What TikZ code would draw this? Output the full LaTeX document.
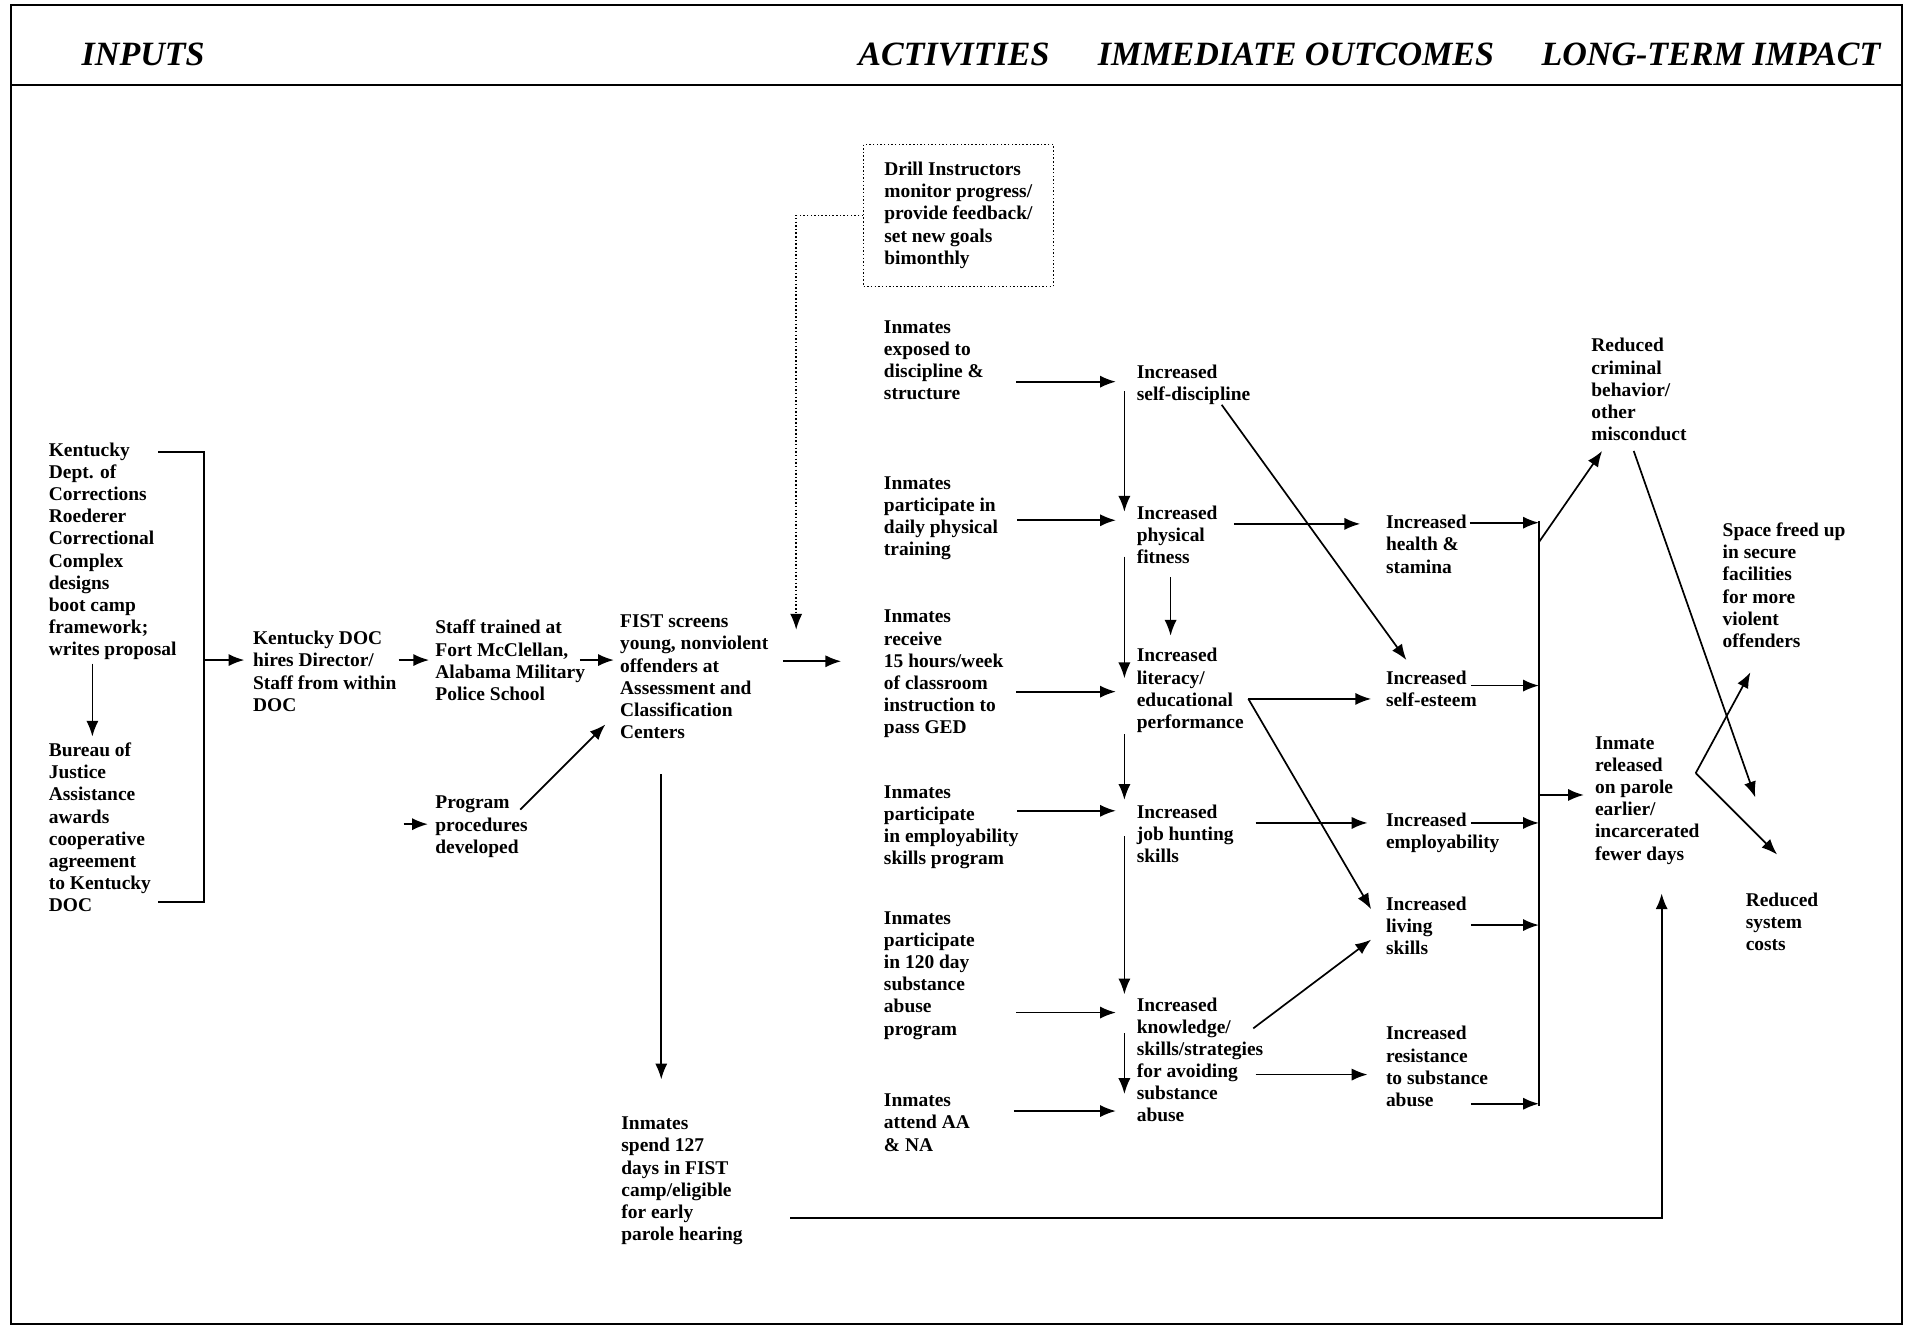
\documentclass[tikz,border=0pt]{standalone}
\usepackage{fontspec}
\setmainfont{Liberation Serif}
\usetikzlibrary{arrows.meta,positioning}
\newcommand{\textlines}[1]{\begin{tabular}[t]{@{}l@{}}#1\end{tabular}}
\tikzset{
    entry/.style={inner sep=0pt, anchor=base west, font=\fontsize{16}{18.2}\selectfont\bfseries},
    head/.style={inner sep=0pt, anchor=base west, font=\fontsize{28}{30}\selectfont\bfseries\itshape},
    drill box/.style={entry, draw, line width=1pt, dash pattern=on 1.2pt off 1.8pt, inner xsep=17pt, inner ysep=13pt}
}
\begin{document}
\begin{tikzpicture}[x=1pt, y=-1pt,
    flow/.style={->, line width=1.4pt},
    dot flow/.style={->, line width=1.2pt, dash pattern=on 1.2pt off 1.8pt},
    >={Latex[length=13pt,width=10pt]}]
    \useasboundingbox (0,0) rectangle (1568,1094);
    % frame and column heads
    \draw[line width=1.6pt] (9,4) rectangle (1565,1089);
    \draw[line width=1.6pt] (9,70) -- (1565,70);
    \node[head] (hin) at (67,54) {INPUTS};
    \node[head] (hact) at (706,54) {ACTIVITIES};
    \node[head] (hout) at (903,54) {IMMEDIATE OUTCOMES};
    \node[head] (himp) at (1268,54) {LONG-TERM IMPACT};
    % inputs
    \node[entry] (kent) at (40,375.5) {\textlines{Kentucky\\Dept. of\\Corrections\\Roederer\\Correctional\\Complex\\designs\\boot camp\\framework;\\writes proposal}};
    \node[entry] (bur) at (40,622.5) {\textlines{Bureau of\\Justice\\Assistance\\awards\\cooperative\\agreement\\to Kentucky\\DOC}};
    \node[entry] (hire) at (208,530.5) {\textlines{Kentucky DOC\\hires Director/\\Staff from within\\DOC}};
    \node[entry] (staff) at (358,521.5) {\textlines{Staff trained at\\Fort McClellan,\\Alabama Military\\Police School}};
    \node[entry] (prog) at (358,665.5) {\textlines{Program\\procedures\\developed}};
    \node[entry] (fist) at (510,516.5) {\textlines{FIST screens\\young, nonviolent\\offenders at\\Assessment and\\Classification\\Centers}};
    \node[entry] (spend) at (511,929.5) {\textlines{Inmates\\spend 127\\days in FIST\\camp/eligible\\for early\\parole hearing}};
    \node[drill box] (drill) at (710,144.5) {\textlines{Drill Instructors\\monitor progress/\\provide feedback/\\set new goals\\bimonthly}};
    % activities
    \node[entry] (a1) at (727,274) {\textlines{Inmates\\exposed to\\discipline \&\\structure}};
    \node[entry] (a2) at (727,402.5) {\textlines{Inmates\\participate in\\daily physical\\training}};
    \node[entry] (a3) at (727,512.5) {\textlines{Inmates\\receive\\15 hours/week\\of classroom\\instruction to\\pass GED}};
    \node[entry] (a4) at (727,656.5) {\textlines{Inmates\\participate\\in employability\\skills program}};
    \node[entry] (a5) at (727,760.5) {\textlines{Inmates\\participate\\in 120 day\\substance\\abuse\\program}};
    \node[entry] (a6) at (727,910.5) {\textlines{Inmates\\attend AA\\\& NA}};
    % immediate outcomes
    \node[entry] (o1) at (935,311) {\textlines{Increased\\self-discipline}};
    \node[entry] (o2) at (935,427.5) {\textlines{Increased\\physical\\fitness}};
    \node[entry] (o3) at (935,544.5) {\textlines{Increased\\literacy/\\educational\\performance}};
    \node[entry] (o4) at (935,673) {\textlines{Increased\\job hunting\\skills}};
    \node[entry] (o5) at (935,832) {\textlines{Increased\\knowledge/\\skills/strategies\\for avoiding\\substance\\abuse}};
    \node[entry] (h) at (1140,435) {\textlines{Increased\\health \&\\stamina}};
    \node[entry] (se) at (1140,563) {\textlines{Increased\\self-esteem}};
    \node[entry] (em) at (1140,680) {\textlines{Increased\\employability}};
    \node[entry] (ls) at (1140,749) {\textlines{Increased\\living\\skills}};
    \node[entry] (rs) at (1140,855.5) {\textlines{Increased\\resistance\\to substance\\abuse}};
    % long-term impact
    \node[entry] (rc) at (1309,289.5) {\textlines{Reduced\\criminal\\behavior/\\other\\misconduct}};
    \node[entry] (sp) at (1417,441.5) {\textlines{Space freed up\\in secure\\facilities\\for more\\violent\\offenders}};
    \node[entry] (ir) at (1312,616.5) {\textlines{Inmate\\released\\on parole\\earlier/\\incarcerated\\fewer days}};
    \node[entry] (rsc) at (1436,745.5) {\textlines{Reduced\\system\\costs}};
    \coordinate (brk) at (168,543);
    \coordinate (progin) at (332,678);
    \coordinate (bustop) at (1266,429);
    \coordinate (busbot) at (1266,910);
    % inputs connectors
    \draw[flow] ([shift={(36,170.5)}]kent.base west) -- ([shift={(36,-16.5)}]bur.base west);
    \draw[line width=1.4pt] ([shift={(90,-3.5)}]kent.base west) -| (brk) |- ([shift={(90,119.5)}]bur.base west);
    \draw[flow] (brk) -- ([shift={(-7,12.5)}]hire.base west);
    \draw[flow] ([shift={(120,12.5)}]hire.base west) -- ([shift={(-5,21.5)}]staff.base west);
    \draw[flow] ([shift={(119,21.5)}]staff.base west) -- ([shift={(-5,26.5)}]fist.base west);
    \draw[flow] (progin) -- ([shift={(-6,12.5)}]prog.base west);
    \draw[flow] ([shift={(70,0.5)}]prog.base west) -- ([shift={(-12,79.5)}]fist.base west);
    \draw[flow] ([shift={(134,27.5)}]fist.base west) -- ([shift={(-35,31.5)}]a3.base west);
    \draw[flow] ([shift={(34,120.5)}]fist.base west) -- ([shift={(33,-41.5)}]spend.base west);
    \draw[flow] ([shift={(139,72.5)}]spend.base west) -| ([shift={(55,118.5)}]ir.base west);
    \draw[dot flow] (drill.west) -| ([shift={(-72,5.5)}]a3.base west);
    % activities to outcomes
    \draw[flow] ([shift={(109,40)}]a1.base west) -- ([shift={(-17,3)}]o1.base west);
    \draw[flow] ([shift={(110,25.5)}]a2.base west) -- ([shift={(-17,0.5)}]o2.base west);
    \draw[flow] ([shift={(109,56.5)}]a3.base west) -- ([shift={(-17,24.5)}]o3.base west);
    \draw[flow] ([shift={(110,10.5)}]a4.base west) -- ([shift={(-17,-6)}]o4.base west);
    \draw[flow] ([shift={(109,72.5)}]a5.base west) -- ([shift={(-17,1)}]o5.base west);
    \draw[flow] ([shift={(107,3.5)}]a6.base west) -- ([shift={(-17,82)}]o5.base west);
    % outcome column
    \draw[flow] ([shift={(-10,11)}]o1.base west) -- ([shift={(-10,-6.5)}]o2.base west);
    \draw[flow] ([shift={(-10,30.5)}]o2.base west) -- ([shift={(-10,13.5)}]o3.base west);
    \draw[flow] ([shift={(-10,59.5)}]o3.base west) -- ([shift={(-10,-15)}]o4.base west);
    \draw[flow] ([shift={(-10,15)}]o4.base west) -- ([shift={(-10,-14)}]o5.base west);
    \draw[flow] ([shift={(-10,18)}]o5.base west) -- ([shift={(-10,68)}]o5.base west);
    \draw[flow] ([shift={(28,47.5)}]o2.base west) -- ([shift={(28,-21.5)}]o3.base west);
    \draw[flow] ([shift={(70,22)}]o1.base west) -- ([shift={(17,-20)}]se.base west);
    \draw[flow] ([shift={(80,3.5)}]o2.base west) -- ([shift={(-21,-4)}]h.base west);
    \draw[flow] ([shift={(92,30.5)}]o3.base west) -- ([shift={(-12,12)}]se.base west);
    \draw[flow] ([shift={(92,30.5)}]o3.base west) -- ([shift={(-12,-1)}]ls.base west);
    \draw[flow] ([shift={(98,4)}]o4.base west) -- ([shift={(-15,-3)}]em.base west);
    \draw[flow] ([shift={(96,14)}]o5.base west) -- ([shift={(-12,24)}]ls.base west);
    \draw[flow] ([shift={(98,52)}]o5.base west) -- ([shift={(-15,28.5)}]rs.base west);
    % collector
    \draw[line width=1.4pt] (bustop) -- (busbot);
    \draw[flow] ([shift={(69,-5)}]h.base west) coordinate (hout) -- (hout -| bustop);
    \draw[flow] ([shift={(70,1)}]se.base west) coordinate (seout) -- (seout -| bustop);
    \draw[flow] ([shift={(70,-3)}]em.base west) coordinate (emout) -- (emout -| bustop);
    \draw[flow] ([shift={(70,12)}]ls.base west) coordinate (lsout) -- (lsout -| bustop);
    \draw[flow] ([shift={(70,52.5)}]rs.base west) coordinate (rsout) -- (rsout -| bustop);
    % long-term impact
    \path ([shift={(-9,37.5)}]ir.base west) coordinate (irin);
    \draw[flow] (irin -| bustop) -- (irin);
    \draw[flow] ([shift={(0,17)}]bustop) -- ([shift={(9,81.5)}]rc.base west);
    \draw[flow] ([shift={(35,81.5)}]rc.base west) -- ([shift={(8,-89.5)}]rsc.base west);
    \draw[flow] ([shift={(83,19.5)}]ir.base west) -- ([shift={(23,111.5)}]sp.base west);
    \draw[flow] ([shift={(83,19.5)}]ir.base west) -- ([shift={(26,-42.5)}]rsc.base west);
\end{tikzpicture}
\end{document}
